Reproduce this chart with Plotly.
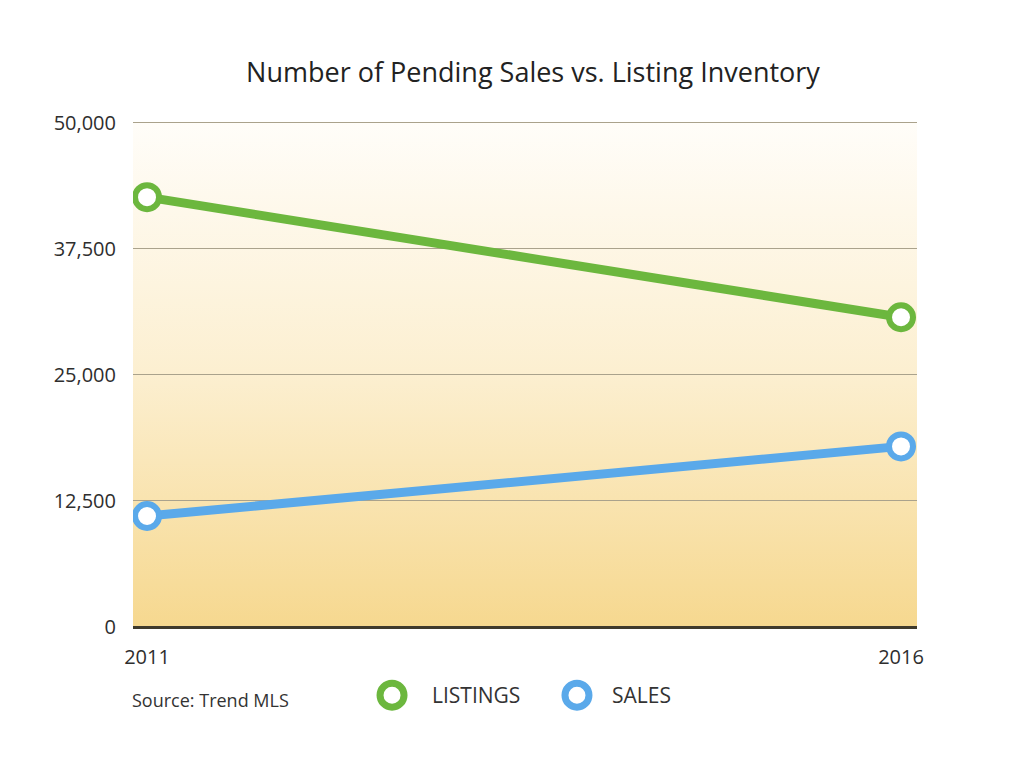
import base64
import plotly.graph_objects as go

years = [2011, 2016]
listings = [42600, 30700]
sales = [11000, 17900]
y_ticks = [0, 12500, 25000, 37500, 50000]
y_tick_labels = ['0', '12,500', '25,000', '37,500', '50,000']
series_names = ['LISTINGS', 'SALES']

green = '#6cb73e'
blue = '#5aa9ea'
x_range = [2010.907, 2016.106]
y_range = [0, 50150]

# vertical gradient for the plot background (white at top, pale gold at bottom)
svg = ('<svg xmlns="http://www.w3.org/2000/svg" width="10" height="100" preserveAspectRatio="none">'
       '<defs><linearGradient id="g" x1="0" y1="0" x2="0" y2="1">'
       '<stop offset="0" stop-color="#fffdf9"/>'
       '<stop offset="0.5" stop-color="#fcefd0"/>'
       '<stop offset="1" stop-color="#f6d88f"/>'
       '</linearGradient></defs>'
       '<rect width="10" height="100" fill="url(#g)"/></svg>')
bg_src = 'data:image/svg+xml;base64,' + base64.b64encode(svg.encode()).decode()

fig = go.Figure()

for name, vals, col in zip(series_names, [listings, sales], [green, blue]):
    fig.add_trace(go.Scatter(
        x=years, y=vals, mode='lines+markers', name=name, showlegend=False,
        line=dict(color=col, width=9),
        marker=dict(symbol='circle', size=24, color='white',
                    line=dict(color=col, width=6))))

# hand-made legend (larger rings than the built-in legend allows)
legend_shapes = []
legend_notes = []
for name, col, cx, tx in zip(series_names, [green, blue], [0.3304, 0.5663], [0.3788, 0.6084]):
    legend_shapes.append(dict(type='circle', xref='paper', yref='paper',
                              xsizemode='pixel', ysizemode='pixel',
                              xanchor=cx, yanchor=-0.1347,
                              x0=-12, x1=12, y0=-12, y1=12,
                              line=dict(color=col, width=7), fillcolor='white'))
    legend_notes.append(dict(text=name, xref='paper', yref='paper', x=tx, y=-0.1347,
                             xanchor='left', yanchor='middle', showarrow=False,
                             font=dict(size=21, color='#333333')))

fig.update_layout(
    width=1024, height=775,
    margin=dict(l=125, r=115, t=113, b=156),
    paper_bgcolor='white', plot_bgcolor='rgba(0,0,0,0)',
    font=dict(family='Open Sans', color='#2e2e2e', size=20),
    title=dict(text='Number of Pending Sales vs. Listing Inventory',
               x=0.5127, xanchor='center', y=0.917, yanchor='middle',
               font=dict(size=27, color='#222222')),
    showlegend=False,
    images=[dict(source=bg_src, xref='x', yref='y', x=x_range[0], y=y_ticks[-1],
                 sizex=x_range[1] - x_range[0], sizey=y_ticks[-1] - y_range[0],
                 sizing='stretch', layer='below', xanchor='left', yanchor='top')],
    shapes=legend_shapes,
    annotations=legend_notes + [dict(text='Source: Trend MLS', xref='paper', yref='paper',
                                     x=-0.004, y=-0.1446, xanchor='left', yanchor='middle',
                                     showarrow=False, font=dict(size=18, color='#333333'))],
)

fig.update_xaxes(range=x_range, tickvals=years, ticktext=[str(y) for y in years],
                 showgrid=False, zeroline=False, showline=False,
                 ticks='', ticklabelstandoff=16, tickfont=dict(size=20))
fig.update_yaxes(range=y_range, tickvals=y_ticks, ticktext=y_tick_labels,
                 showgrid=True, gridcolor='#aaa28c', gridwidth=1.2,
                 zeroline=True, zerolinecolor='#3f3a2c', zerolinewidth=2.5,
                 showline=False, ticks='', ticklabelstandoff=16)

fig.write_html('out.html')
